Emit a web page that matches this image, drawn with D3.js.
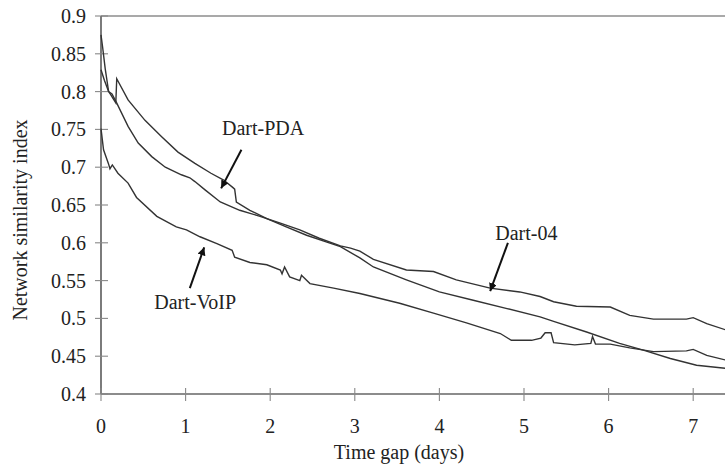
<!DOCTYPE html>
<html>
<head>
<meta charset="utf-8">
<script src="https://cdn.jsdelivr.net/npm/d3@7"></script>
<style>
  body { margin: 0; background: #fff; }
  text { font-family: "Liberation Serif", "Times New Roman", serif; fill: #222; }
</style>
</head>
<body>
<div id="chart-area"></div>
<script>
var width = 725,
    height = 467;

// [time gap (days), similarity index]
var dartPDA = [[0,0.875],[0.02,0.858],[0.05,0.83],[0.09,0.80],[0.12,0.795],[0.175,0.785],[0.186,0.817],
  [0.32,0.789],[0.52,0.762],[0.72,0.740],[0.91,0.72],[1.11,0.705],[1.30,0.692],[1.45,0.683],[1.56,0.673],
  [1.58,0.671],[1.60,0.654],[1.76,0.643],[1.96,0.632],[2.19,0.621],[2.43,0.610],[2.67,0.601],[2.83,0.595],
  [3.06,0.580],[3.22,0.568],[3.61,0.551],[4.0,0.535],[4.4,0.524],[4.8,0.513],[5.19,0.502],[5.35,0.496],
  [5.74,0.482],[6.13,0.467],[6.41,0.458],[6.73,0.447],[7.04,0.438],[7.38,0.434]];

var dart04 = [[0,0.829],[0.04,0.815],[0.09,0.80],[0.13,0.797],[0.185,0.785],[0.32,0.754],[0.44,0.732],
  [0.6,0.714],[0.76,0.70],[0.95,0.690],[1.05,0.686],[1.11,0.681],[1.23,0.670],[1.41,0.654],[1.64,0.643],
  [1.88,0.635],[2.12,0.626],[2.35,0.617],[2.58,0.606],[2.83,0.596],[2.95,0.593],[3.06,0.589],[3.22,0.578],
  [3.61,0.564],[3.93,0.562],[4.2,0.551],[4.6,0.540],[4.95,0.535],[5.19,0.529],[5.35,0.522],[5.62,0.516],
  [6.02,0.515],[6.25,0.504],[6.53,0.499],[6.92,0.499],[7.0,0.501],[7.16,0.493],[7.38,0.485]];

var dartVoIP = [[0,0.751],[0.03,0.723],[0.087,0.705],[0.106,0.698],[0.134,0.703],[0.2,0.692],[0.32,0.679],
  [0.42,0.660],[0.66,0.635],[0.89,0.621],[1.01,0.617],[1.17,0.608],[1.37,0.599],[1.55,0.590],[1.58,0.581],
  [1.76,0.574],[1.96,0.571],[2.12,0.564],[2.14,0.559],[2.17,0.568],[2.23,0.555],[2.35,0.550],[2.37,0.557],
  [2.47,0.546],[2.75,0.540],[3.06,0.533],[3.53,0.520],[3.93,0.507],[4.32,0.494],[4.72,0.480],[4.85,0.471],
  [5.09,0.471],[5.20,0.474],[5.25,0.481],[5.32,0.481],[5.35,0.468],[5.6,0.465],[5.79,0.467],[5.81,0.476],
  [5.845,0.466],[6.02,0.466],[6.25,0.461],[6.53,0.456],[6.92,0.457],[7.0,0.459],[7.16,0.451],[7.38,0.445]];

var xTicks = [0, 1, 2, 3, 4, 5, 6, 7];
var yTicks = [0.4, 0.45, 0.5, 0.55, 0.6, 0.65, 0.7, 0.75, 0.8, 0.85, 0.9];

// label, text position, arrow tail, arrow tip (data units)
var labels = [
  {name: "Dart-PDA", tx: 1.43, ty: 0.743, from: [1.66, 0.723], to: [1.42, 0.672]},
  {name: "Dart-VoIP", tx: 0.63, ty: 0.512, from: [1.05, 0.540], to: [1.22, 0.594]},
  {name: "Dart-04", tx: 4.66, ty: 0.604, from: [4.81, 0.600], to: [4.60, 0.536]}
];

var svg = d3.select("#chart-area").append("svg")
    .attr("width", width)
    .attr("height", height);

var x = d3.scaleLinear().domain([0, 7.376]).range([101, 725]);
var y = d3.scaleLinear().domain([0.4, 0.9]).range([394, 16]);

// frame: top line, y axis, x axis
svg.append("line")
    .attr("x1", x(0)).attr("x2", width)
    .attr("y1", y(0.9)).attr("y2", y(0.9))
    .style("stroke", "#8c8c8c").style("stroke-width", 1.6);

svg.append("line")
    .attr("x1", x(0)).attr("x2", x(0))
    .attr("y1", y(0.9)).attr("y2", y(0.4))
    .style("stroke", "#444").style("stroke-width", 1.4);

svg.append("line")
    .attr("x1", x(0)).attr("x2", width)
    .attr("y1", y(0.4)).attr("y2", y(0.4))
    .style("stroke", "#666").style("stroke-width", 1.4);

// ticks crossing the axes
svg.selectAll(".ytick")
    .data(yTicks)
    .enter()
    .append("line")
    .attr("class", "ytick")
    .attr("x1", x(0) - 6).attr("x2", x(0) + 7)
    .attr("y1", d => y(d)).attr("y2", d => y(d))
    .style("stroke", "#888").style("stroke-width", 1.1);

svg.selectAll(".xtick")
    .data(xTicks)
    .enter()
    .append("line")
    .attr("class", "xtick")
    .attr("x1", d => x(d)).attr("x2", d => x(d))
    .attr("y1", y(0.4) - 6).attr("y2", y(0.4) + 7)
    .style("stroke", "#888").style("stroke-width", 1.1);

svg.selectAll(".ylab")
    .data(yTicks)
    .enter()
    .append("text")
    .attr("class", "ylab")
    .attr("x", 86)
    .attr("y", d => y(d) + 7)
    .attr("text-anchor", "end")
    .attr("font-size", 20)
    .text(d => d);

svg.selectAll(".xlab")
    .data(xTicks)
    .enter()
    .append("text")
    .attr("class", "xlab")
    .attr("x", d => x(d))
    .attr("y", 433)
    .attr("text-anchor", "middle")
    .attr("font-size", 20)
    .text(d => d);

svg.append("text")
    .attr("x", 399)
    .attr("y", 459)
    .attr("text-anchor", "middle")
    .attr("font-size", 20)
    .text("Time gap (days)");

svg.append("text")
    .attr("transform", "translate(27,220) rotate(-90)")
    .attr("text-anchor", "middle")
    .attr("font-size", 20)
    .text("Network similarity index");

// the three curves
var line = d3.line()
    .x(d => x(d[0]))
    .y(d => y(d[1]));

svg.selectAll(".series")
    .data([dartPDA, dart04, dartVoIP])
    .enter()
    .append("path")
    .attr("class", "series")
    .attr("d", line)
    .style("fill", "none")
    .style("stroke", "#333")
    .style("stroke-width", 1.4);

// annotations with arrows
svg.append("defs").append("marker")
    .attr("id", "arrow")
    .attr("viewBox", "0 0 10 10")
    .attr("refX", 10).attr("refY", 5)
    .attr("markerWidth", 8).attr("markerHeight", 8)
    .attr("markerUnits", "userSpaceOnUse")
    .attr("orient", "auto")
    .append("path")
    .attr("d", "M0,0L10,5L0,10z")
    .style("fill", "#111");

svg.selectAll(".arrow")
    .data(labels)
    .enter()
    .append("line")
    .attr("class", "arrow")
    .attr("x1", d => x(d.from[0])).attr("y1", d => y(d.from[1]))
    .attr("x2", d => x(d.to[0])).attr("y2", d => y(d.to[1]))
    .attr("marker-end", "url(#arrow)")
    .style("stroke", "#111")
    .style("stroke-width", 2);

svg.selectAll(".note")
    .data(labels)
    .enter()
    .append("text")
    .attr("class", "note")
    .attr("x", d => x(d.tx))
    .attr("y", d => y(d.ty))
    .attr("font-size", 20)
    .text(d => d.name);
</script>
</body>
</html>
